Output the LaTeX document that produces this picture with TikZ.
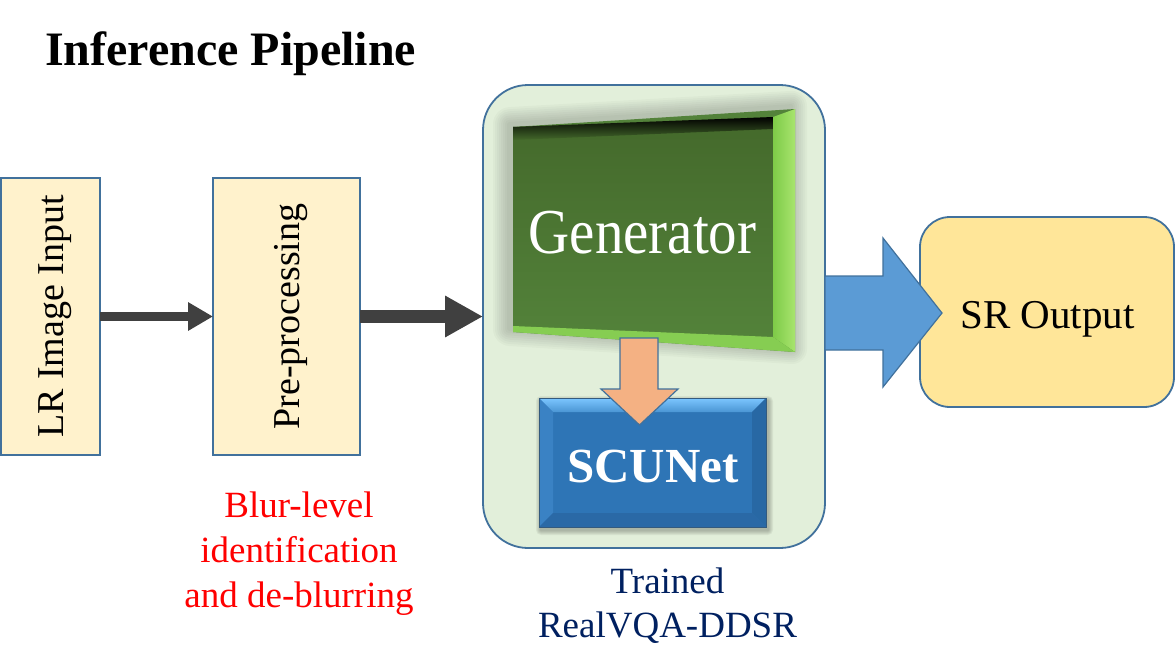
\documentclass[tikz,border=0pt]{standalone}
\usepackage{fontspec}
\setmainfont{Liberation Serif}
\usetikzlibrary{arrows.meta,calc}
\definecolor{bord}{HTML}{41719C}
\definecolor{yfill}{HTML}{FFF2CC}
\definecolor{cfill}{HTML}{E2EFDA}
\definecolor{srfill}{HTML}{FFE699}
\definecolor{orangefill}{HTML}{F4B183}
\definecolor{bluearr}{HTML}{5B9BD5}
\definecolor{darkarr}{HTML}{404040}
\definecolor{navy}{HTML}{002060}
\definecolor{genTop}{HTML}{44692B}
\definecolor{genBot}{HTML}{53823A}
\definecolor{bevA}{HTML}{7ECB48}
\definecolor{bevB}{HTML}{A8E46E}
\definecolor{bevBot}{HTML}{86CD52}
\definecolor{scuFace}{HTML}{2E75B6}
\definecolor{scuTopA}{HTML}{7CC6FF}
\definecolor{scuTopB}{HTML}{4A95D4}
\definecolor{scuLeft}{HTML}{3A82C4}
\definecolor{scuRight}{HTML}{2868A4}
\definecolor{scuBot}{HTML}{2A69A6}
\begin{document}
\begin{tikzpicture}[x=1pt,y=-1pt,
  ybox/.style={draw=bord, line width=2pt, fill=yfill, inner sep=0pt, outer sep=0pt},
  rottext/.style={inner sep=0pt, font=\fontsize{38}{44}\selectfont},
]
\useasboundingbox (0,0) rectangle (1176,670);

% title
\node[anchor=base west, inner sep=0pt, font=\fontsize{48}{56}\selectfont\bfseries] (title) at (45,65) {Inference Pipeline};

% input boxes
\node[ybox, minimum width=99pt, minimum height=277pt] (lr) at (50.5,316.5) {};
\node[rottext] (lrt) at ([xshift=4.5pt]lr.center) {\rotatebox{90}{LR Image Input}};
\node[ybox, minimum width=147pt, minimum height=277pt] (pre) at (286.5,316.5) {};
\node[rottext] (pret) at ([xshift=5pt]pre.center) {\rotatebox{90}{Pre-processing}};

% container
\node[draw=bord, line width=1.8pt, fill=cfill, rounded corners=45pt, minimum width=342pt, minimum height=463pt, inner sep=0pt, outer sep=0pt] (cont) at (654,316.5) {};

% generator soft shadow
\foreach \d in {2,4,...,16} {
  \fill[black, opacity=0.025, rounded corners=\d pt]
    (513-\d-4,127-\d-3) -- (795+\d-4,109-\d-3) -- (795+\d-4,352+\d-3) -- (513-\d-4,332+\d-3) -- cycle;
}
% generator
\fill[genBot] (513,127) -- (795,109) -- (795,352) -- (513,332) -- cycle;
\shade[top color=genTop, bottom color=genBot] (513,127) -- (773,117) -- (773,337) -- (513,326) -- cycle;
\shade[top color=black, bottom color=genTop] (513,127) -- (773,117) -- (773,129) -- (513,140) -- cycle;
\shade[left color=bevA, right color=bevB] (773,117) -- (795,109) -- (795,352) -- (773,337) -- cycle;
\fill[bevBot] (513,326) -- (773,337) -- (795,352) -- (513,332) -- cycle;
\node[anchor=base, inner sep=0pt, text=white, font=\fontsize{64}{70}\selectfont] (gen) at (642.5,253) {\scalebox{0.89}[1]{Generator}};

% SCUNet box
\foreach \d in {1,2,...,5} {
  \fill[black, opacity=0.05, rounded corners=\d pt] (539+2-\d,398+3-\d) rectangle (766+2+\d,527+3+\d);
}
\fill[scuFace] (539,398) rectangle (766,527);
\shade[top color=scuTopA, bottom color=scuTopB] (539,398) -- (766,398) -- (752,412) -- (553,412) -- cycle;
\fill[scuLeft] (539,398) -- (553,412) -- (553,513) -- (539,527) -- cycle;
\fill[scuRight] (766,398) -- (752,412) -- (752,513) -- (766,527) -- cycle;
\fill[scuBot] (539,527) -- (553,513) -- (752,513) -- (766,527) -- cycle;
\node[draw=bord!80!black, line width=0.8pt, minimum width=227pt, minimum height=129pt, inner sep=0pt, outer sep=0pt] (scu) at (652.5,462.5) {};
\node[anchor=base, inner sep=0pt, text=white, font=\fontsize{49}{56}\selectfont\bfseries] (scut) at (653,482) {SCUNet};

% orange arrow generator -> SCUNet
\draw[bord, line width=1.2pt, fill=orangefill] (620,338) -- (658,338) -- (658,389) -- (678,389) -- (639.5,425) -- (601,389) -- (620,389) -- cycle;

% SR output
\node[draw=bord, line width=1.8pt, fill=srfill, rounded corners=30pt, minimum width=254pt, minimum height=190pt, inner sep=0pt, outer sep=0pt] (sr) at (1047,312) {};
\node[anchor=base, inner sep=0pt, font=\fontsize{41}{48}\selectfont] (srt) at (1047.5,328) {SR Output};

% blue block arrow container -> SR
\coordinate (tip) at ([xshift=22pt,yshift=-1pt]sr.west);
\draw[bord, line width=1.2pt, fill=bluearr] (tip) -- (883,238) -- (883,276) -- (cont.east |- {(0,276)}) -- (cont.east |- {(0,350)}) -- (883,350) -- (883,387) -- cycle;

% dark arrows
\draw[draw=darkarr, line width=9pt, -{Triangle[length=25pt,width=27pt]}] (lr.east) -- (pre.west);
\draw[draw=darkarr, line width=13pt, -{Triangle[length=38pt,width=39pt]}] (pre.east) -- (cont.west);

% captions
\node[anchor=north, align=center, inner sep=0pt, text=red, font=\fontsize{37}{45}\selectfont] (blur) at (299,492) {Blur-level\\identification\\and de-blurring};
\node[anchor=north, align=center, inner sep=0pt, text=navy, font=\fontsize{37}{44}\selectfont] (trained) at (667.5,568) {Trained\\RealVQA-DDSR};
\end{tikzpicture}
\end{document}
